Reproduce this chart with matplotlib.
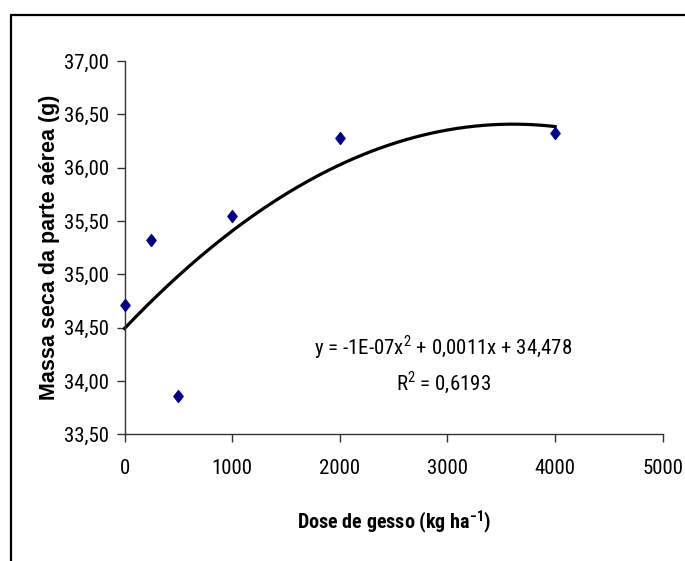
import numpy as np
import matplotlib
matplotlib.use("Agg")
import matplotlib.pyplot as plt
from matplotlib.path import Path
from matplotlib.patches import Rectangle

# data
dose = [0, 250, 500, 1000, 2000, 4000]
massa = [34.71, 35.32, 33.86, 35.55, 36.28, 36.33]
y_ticks = [33.5, 34.0, 34.5, 35.0, 35.5, 36.0, 36.5, 37.0]
x_ticks = [0, 1000, 2000, 3000, 4000, 5000]
eq_text = "y = -1E-07x$^2$ + 0,0011x + 34,478"
r2_text = "R$^2$ = 0,6193"

narrow = ["Roboto Condensed", "Archivo Narrow", "DejaVu Sans"]
plt.rcParams["mathtext.fontset"] = "custom"
plt.rcParams["mathtext.rm"] = "Roboto Condensed"
plt.rcParams["mathtext.bf"] = "Roboto Condensed:bold"

fig = plt.figure(figsize=(6.85, 5.61), dpi=100)
ax = fig.add_axes([0.1818, 0.2258, 0.9675 - 0.1818, 0.891 - 0.2258])

# outer frame (only top and left visible)
fig.patches.append(Rectangle((11 / 685, -0.2), 1.2, 1.2 - 15 / 561,
                             transform=fig.transFigure, fill=False,
                             lw=1.6, ec="black"))

# excel-like diamond
diamond = Path([(0, 1), (0.78, 0), (0, -1), (-0.78, 0), (0, 1)],
               [Path.MOVETO, Path.LINETO, Path.LINETO, Path.LINETO, Path.CLOSEPOLY])
ax.plot(dose, massa, linestyle="none", marker=diamond, markersize=8.5,
        color="#000080", zorder=3, clip_on=False)

# polynomial trendline (2nd order)
coef = np.polyfit(dose, massa, 2)
xs = np.linspace(0, max(dose), 200)
ax.plot(xs, np.polyval(coef, xs), color="black", lw=2.3, zorder=2, clip_on=False)

ax.set_xlim(0, 5000)
ax.set_ylim(33.5, 37.0)
ax.set_xticks(x_ticks)
ax.set_yticks(y_ticks)
ax.set_xticklabels([str(t) for t in x_ticks], family=narrow, fontsize=15)
ax.set_yticklabels([f"{t:.2f}".replace(".", ",") for t in y_ticks], family=narrow, fontsize=15)
ax.tick_params(direction="out", length=6, width=1, color="#333333", pad=5)
ax.tick_params(axis="x", pad=12)
for s in ["top", "right"]:
    ax.spines[s].set_visible(False)
for s in ["left", "bottom"]:
    ax.spines[s].set_color("#333333")
    ax.spines[s].set_linewidth(1)

ax.set_xlabel("Dose de gesso (kg ha$^{\\mathbf{-1}}$)", family=narrow, fontsize=14.5,
              fontweight="bold", labelpad=22)
ax.set_ylabel("Massa seca da parte aérea (g)", family=["Liberation Sans", "DejaVu Sans"],
              fontsize=15.5, fontweight="bold", labelpad=3)

ax.text(0.592, 0.233, eq_text, transform=ax.transAxes, ha="center", va="center",
        family=narrow, fontsize=15)
ax.text(0.592, 0.137, r2_text, transform=ax.transAxes, ha="center", va="center",
        family=narrow, fontsize=15)

fig.savefig("out.png", dpi=100)
